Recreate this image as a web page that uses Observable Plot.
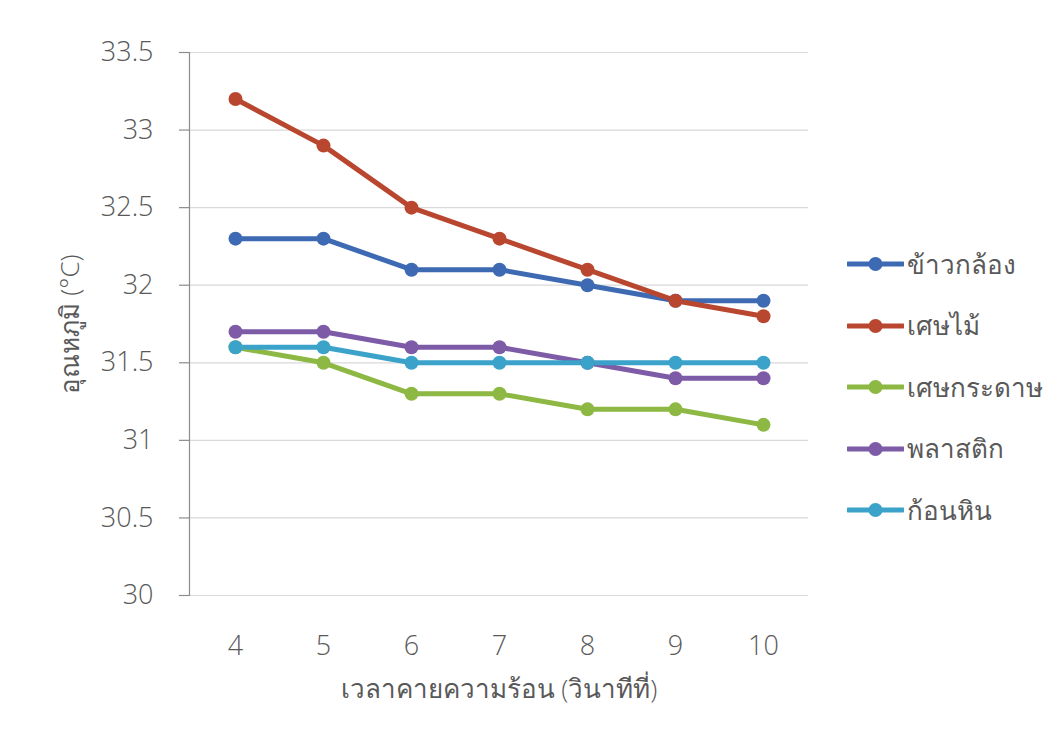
<!DOCTYPE html>
<html>
<head>
<meta charset="utf-8">
<script src="https://cdn.jsdelivr.net/npm/d3@7"></script>
<script src="https://cdn.jsdelivr.net/npm/@observablehq/plot@0.6"></script>
<style>
  html, body { margin: 0; padding: 0; background: #fff; }
  #wrap { position: relative; width: 1062px; height: 745px; overflow: hidden; }
  #legend { position: absolute; left: 847px; top: 0; font-family: "Open Sans", "Noto Sans", sans-serif; font-weight: 300; font-size: 26px; color: #595959; }
  .item { position: absolute; left: 0; display: flex; align-items: center; white-space: nowrap; }
  .item svg { display: block; margin-right: 3px; }
</style>
</head>
<body>
<div id="wrap"></div>
<script>
const times = ["4", "5", "6", "7", "8", "9", "10"];
const seriesNames = ["ข้าวกล้อง", "เศษไม้", "เศษกระดาษ", "พลาสติก", "ก้อนหิน"];
const seriesColors = ["#3d6ab3", "#b9472f", "#8db843", "#7d5ba6", "#3ba2c9"];
const brownRice = [32.3, 32.3, 32.1, 32.1, 32.0, 31.9, 31.9];
const woodScrap = [33.2, 32.9, 32.5, 32.3, 32.1, 31.9, 31.8];
const paperScrap = [31.6, 31.5, 31.3, 31.3, 31.2, 31.2, 31.1];
const plastic = [31.7, 31.7, 31.6, 31.6, 31.5, 31.4, 31.4];
const stone = [31.6, 31.6, 31.5, 31.5, 31.5, 31.5, 31.5];
const yTicks = [30, 30.5, 31, 31.5, 32, 32.5, 33, 33.5];
const xTitle = "เวลาคายความร้อน (วินาทีที่)";
const yTitle = "อุณหภูมิ (°C)";

const seriesValues = [brownRice, woodScrap, paperScrap, plastic, stone];
const data = [];
seriesNames.forEach((name, si) => {
  times.forEach((t, i) => data.push({ series: name, time: t, value: seriesValues[si][i] }));
});

const fontFamily = '"Open Sans", "Noto Sans", sans-serif';

const chart = Plot.plot({
  width: 1062,
  height: 745,
  marginLeft: 189,
  marginRight: 254,
  marginTop: 52,
  marginBottom: 150,
  style: { fontFamily, fontWeight: 300, color: "#595959", background: "transparent" },
  x: { type: "point", domain: times, padding: 0.5, label: null },
  y: { domain: [30, 33.5], label: null },
  color: { domain: seriesNames, range: seriesColors },
  marks: [
    Plot.ruleY(yTicks, { y: d => d, stroke: "#d9d9d9", strokeWidth: 1.2 }),
    Plot.frame({ anchor: "left", stroke: "#8c8c8c", strokeWidth: 1.2 }),
    Plot.axisY({ ticks: yTicks, tickSize: 10, tickPadding: 26, fontSize: 27, stroke: "#8c8c8c", strokeWidth: 1.2, tickFormat: d => String(d), label: null }),
    Plot.axisX({ tickSize: 0, tickPadding: 40, fontSize: 27, label: null }),
    Plot.line(data, { x: "time", y: "value", z: "series", stroke: "series", strokeWidth: 5, strokeLinejoin: "round", strokeLinecap: "round" }),
    Plot.dot(data, { x: "time", y: "value", fill: "series", r: 7 }),
    Plot.text([xTitle], { text: d => d, frameAnchor: "bottom", dy: 102, fontSize: 26, fill: "#595959" }),
    Plot.text([yTitle], { text: d => d, frameAnchor: "left", textAnchor: "middle", rotate: -90, dx: -119, fontSize: 26, fill: "#595959" })
  ]
});

const wrap = document.getElementById("wrap");
wrap.appendChild(chart);

const legend = document.createElement("div");
legend.id = "legend";
seriesNames.forEach((name, i) => {
  const item = document.createElement("div");
  item.className = "item";
  const cy = 264 + 61.5 * i;
  item.style.top = (cy - 20) + "px";
  item.style.height = "40px";
  item.innerHTML = `<svg width="57" height="16"><line x1="1" y1="8" x2="56" y2="8" stroke="${seriesColors[i]}" stroke-width="5" stroke-linecap="round"/><circle cx="28.5" cy="8" r="7" fill="${seriesColors[i]}"/></svg><span>${name}</span>`;
  legend.appendChild(item);
});
wrap.appendChild(legend);
</script>
</body>
</html>
